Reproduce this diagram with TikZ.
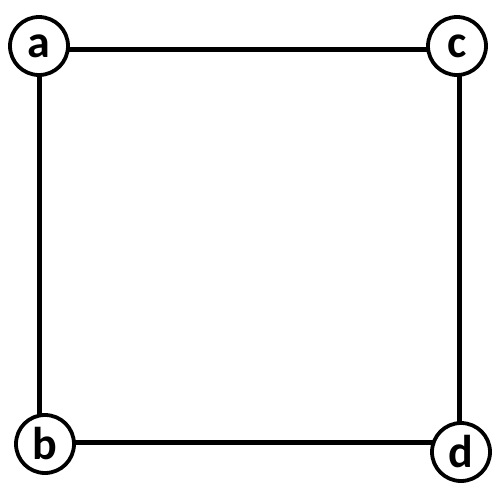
\documentclass[tikz,border=0pt]{standalone}
\usepackage{fontspec}
\setmainfont{Carlito}
\usetikzlibrary{backgrounds}
\begin{document}
\begin{tikzpicture}[x=1pt,y=-1pt,
  vtx/.style={circle,draw=black,line width=3.8pt,fill=white,minimum size=58pt,inner sep=0pt,font=\fontsize{46}{46}\selectfont\bfseries},
  edge/.style={line width=5pt,black}]
\useasboundingbox (0,0) rectangle (500,501);
\node[vtx] (a) at (39,46) {a};
\node[vtx] (c) at (457,46) {c};
\node[vtx] (b) at (45,444) {b};
\node[vtx] (d) at (461,452) {d};
\begin{scope}[on background layer]
\draw[edge] (a) -- (a |- b);
\draw[edge] ([yshift=2pt]b.center) -- ([yshift=2pt]b -| d);
\draw[edge] ([yshift=-3pt]a.center) -- ([yshift=-3pt]a -| c);
\draw[edge] ([xshift=2pt]c.center) -- ([xshift=2pt]c |- d);
\end{scope}
\end{tikzpicture}
\end{document}
